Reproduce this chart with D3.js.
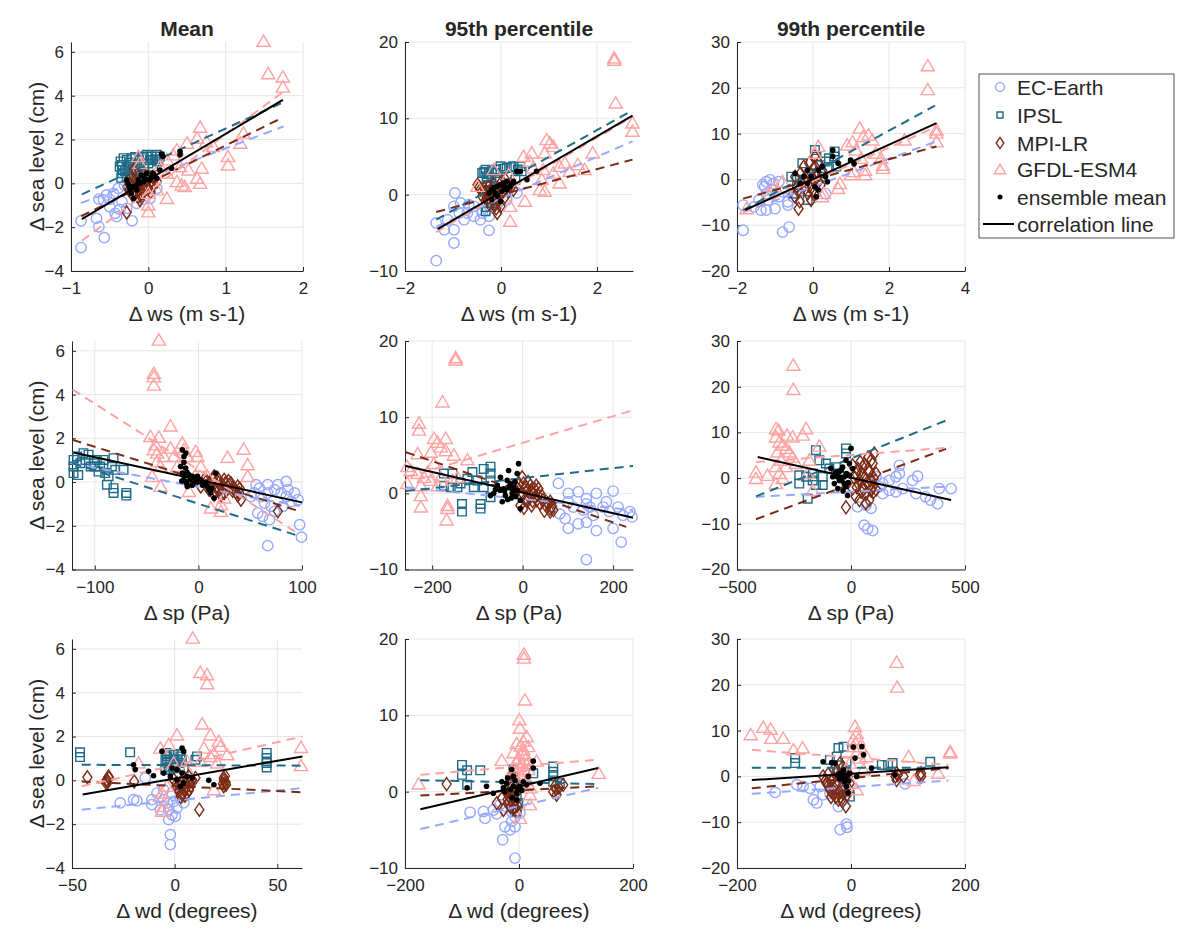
<!DOCTYPE html>
<html>
<head>
<meta charset="utf-8">
<script src="https://cdn.jsdelivr.net/npm/d3@7"></script>
<style>
body { margin: 0; background: #fff; }
text { font-family: "Liberation Sans", Arial, sans-serif; fill: #262626; }
</style>
</head>
<body>
<svg id="chart" width="1200" height="946"></svg>
<script>
// ---- labels ----
var modelNames = ["EC-Earth", "IPSL", "MPI-LR", "GFDL-ESM4"];
var colTitles = ["Mean", "95th percentile", "99th percentile"];
var rowLabels = ["\u0394 ws (m s-1)", "\u0394 sp (Pa)", "\u0394 wd (degrees)"];
var yLabel = "\u0394 sea level (cm)";

// ---- axis limits and ticks (panel order: row by row) ----
var xDomains = [[-1, 2], [-2, 2.75], [-2, 4], [-122, 100], [-260, 244], [-500, 500], [-50, 62], [-200, 200], [-200, 200]];
var xTickVals = [[-1, 0, 1, 2], [-2, 0, 2], [-2, 0, 2, 4], [-100, 0, 100], [-200, 0, 200], [-500, 0, 500], [-50, 0, 50], [-200, 0, 200], [-200, 0, 200]];
var yDomains = [[-4, 6.45], [-10, 20], [-20, 30]];
var yTickVals = [[-4, -2, 0, 2, 4, 6], [-10, 0, 10, 20], [-20, -10, 0, 10, 20, 30]];

// ---- wind speed, mean ----
var ecWsMean = [[-0.87,-1.71],[-0.87,-2.93],[-0.57,-2.48],[-0.64,-1.98],[-0.67,-1.6],[-0.64,-0.72],[-0.54,-0.53],[-0.45,-0.46],[-0.39,-0.23],[-0.31,-0.08],[-0.22,0.15],[-0.5,-1.07],[-0.43,-1.37],[-0.41,-1.52],[-0.21,-1.71],[-0.28,-1.14],[-0.15,-0.91],[-0.06,-0.73],[0.02,-0.69],[-0.5,-0.73],[-0.34,-0.84],[-0.19,-0.46],[-0.11,-0.3],[0.04,-0.15],[0.11,-0.23],[-0.58,-0.76],[-0.37,-1.19]];
var ipslWsMean = [[-0.37,0.76],[-0.34,0.46],[-0.28,1.07],[-0.26,0.76],[-0.22,1.14],[-0.19,0.61],[-0.15,0.91],[-0.34,0.84],[-0.28,0.3],[-0.06,1.22],[-0.02,1.3],[0.04,1.22],[0.06,1.07],[0.11,1.3],[0.15,1.22],[0,0.91],[-0.06,0.76],[-0.11,0.46],[-0.19,0.23],[-0.22,-0.15],[-0.15,0.08],[0.06,0.76],[-0.36,1.0],[-0.32,1.15],[-0.3,0.55],[-0.24,0.95],[-0.2,0.85],[-0.17,1.2],[-0.12,1.05],[-0.08,1.15],[0.02,1.05],[0.09,1.1],[0.13,1.0],[-0.35,0.25],[-0.33,0.6]];
var mpiWsMean = [[-0.28,-1.33],[-0.11,-0.76],[-0.19,-0.38],[-0.15,-0.15],[-0.11,0.08],[-0.06,-0.15],[-0.02,0.15],[0.02,0],[0.06,0.3],[0.11,0.08],[-0.24,0],[-0.22,0.3],[-0.19,0.61],[-0.06,0.46],[0,-0.23],[-0.09,-0.46],[-0.13,-0.61],[0.06,-0.08],[-0.25,-0.3],[-0.2,-0.1],[-0.17,0.15],[-0.12,-0.3],[-0.08,0.2],[-0.04,-0.05],[0,0.3],[0.04,0.1],[-0.1,-0.55],[-0.2,-0.55],[-0.27,-0.15],[0.08,0.2],[-0.15,0.4],[-0.05,-0.35],[0.03,-0.4]];
var gfdlWsMean = [[1.49,6.48],[1.55,5.0],[1.74,4.85],[1.74,4.39],[0.67,2.56],[0.84,1.68],[0.75,1.9],[0.63,2.06],[0.5,1.83],[0.37,1.52],[0.32,1.3],[0.24,1.07],[0.15,0.76],[0.41,0.76],[0.52,0.61],[0.69,0.69],[0.37,0.08],[0.43,-0.08],[0.47,-0.15],[0.63,0.23],[0.67,0],[0.24,-0.69],[0.11,-0.3],[0,-0.99],[0,-1.3],[0,-0.46],[1.03,1.22],[1.03,0.84],[1.19,1.83],[1.23,2.29],[0.24,0.46],[-0.11,0.91],[-0.13,1.22]];
var ensWsMean = [[-0.28,0.15],[-0.24,-0.23],[-0.19,-0.69],[-0.15,-0.3],[-0.11,0],[-0.06,0.3],[-0.02,0.46],[0.02,0.15],[0.06,0.46],[0.11,0.23],[0.15,0.61],[0.17,1.34],[0.19,1.22],[0.3,0.69],[0.41,1.45],[0.41,1.3],[-0.06,0.08],[-0.15,-0.08],[-0.09,0.38],[0.04,0.3],[-0.22,-0.46],[-0.2,-0.15],[-0.13,0.15],[-0.03,0.2],[0.08,0.35],[-0.26,-0.05]];
// fit lines: x1, y1, x2, y2 for EC, IPSL, MPI, GFDL, ensemble
var fitWsMean = [[-0.87,-0.9,1.75,2.6],[-0.86,-0.5,1.72,3.66],[-0.87,-1.5,1.72,2.97],[-0.86,-2.62,1.75,4.19],[-0.86,-1.63,1.74,3.81]];

// ---- wind speed, 95th ----
var ecWs95 = [[-1.35,-8.65],[-0.98,-6.33],[-1.35,-3.71],[-1.18,-4.59],[-0.96,0.22],[-0.98,-4.59],[-0.98,-1.53],[-0.84,-1.09],[-0.7,-2.4],[-0.56,-2.84],[-0.43,-3.28],[-0.25,-2.84],[-0.25,-4.67],[-0.77,-3.28],[-0.56,-1.53],[-0.39,-2.4],[-0.29,-1.97],[-1.11,-3.28],[-0.87,-2.4],[-0.08,-1.31],[0.12,-0.66],[0.33,0.22],[-0.67,-1.31]];
var ipslWs95 = [[-0.32,3.28],[-0.29,2.4],[-0.19,3.06],[-0.12,2.84],[-0.08,1.97],[-0.22,1.09],[-0.15,0.22],[-0.19,-1.09],[-0.32,-2.18],[0.12,3.49],[0.26,3.71],[0.4,3.71],[0.43,3.06],[0.3,1.97],[-0.01,3.71],[-0.29,1.09],[-0.39,2.84],[-0.35,3.0],[-0.25,2.7],[-0.2,2.2],[-0.1,3.3],[0.05,3.4],[0.2,3.6],[0.35,3.3],[-0.3,1.6],[-0.25,0.6],[-0.25,-0.5],[-0.3,-1.6]];
var mpiWs95 = [[-0.49,1.31],[-0.43,0.66],[-0.29,0.22],[-0.25,1.09],[-0.19,-0.22],[-0.15,-0.66],[-0.12,-1.31],[-0.08,-2.4],[-0.01,-1.53],[0.05,0.44],[0.12,1.09],[0.19,1.31],[0.26,0.66],[-0.29,-0.66],[-0.05,0.66],[0.02,1.75],[0.09,1.97],[-0.39,-0.22],[-0.45,1.0],[-0.35,0.3],[-0.3,-0.4],[-0.2,0.5],[-0.1,0],[-0.05,-0.8],[0,0.2],[0.08,-0.3],[0.15,0.4],[0.2,0.9],[-0.15,1.3],[-0.25,-1.2],[-0.1,-1.8],[0.05,1.2],[-0.35,0.8]];
var gfdlWs95 = [[2.36,17.9],[2.36,17.6],[2.39,12.0],[2.74,9.39],[2.74,8.3],[1.91,5.46],[1.74,3.28],[1.6,3.93],[1.33,4.15],[1.22,1.53],[1.09,6.33],[0.95,7.21],[1.02,6.77],[0.91,5.46],[0.88,3.28],[0.85,1.97],[0.91,0.44],[0.81,0.66],[0.64,5.46],[0.6,4.37],[0.47,5.02],[0.5,-0.87],[0.19,-1.53],[0.19,-3.49],[-0.15,3.28],[-0.49,1.09],[0.16,2.62],[1.09,2.84],[1.22,3.71],[0.67,3.49],[1.43,3.06]];
var ensWs95 = [[-0.25,0.22],[-0.19,0.66],[-0.12,0.22],[-0.08,1.09],[-0.01,1.31],[0.05,1.53],[0.12,1.75],[0.19,1.09],[0.26,1.75],[0.33,3.06],[0.4,3.06],[0.54,1.97],[0.74,3.06],[-0.19,-0.66],[-0.08,-0.22],[0.02,0.44],[0.12,0.66],[-0.01,-0.87],[-0.15,0.9],[0.08,1.0],[0.22,1.4]];
var fitWs95 = [[-1.35,-4.2,2.74,6.99],[-1.35,-3.28,2.74,11.05],[-1.35,-2.27,2.74,4.59],[-1.35,-4.9,2.74,10.2],[-1.32,-4.5,2.74,10.35]];

// ---- wind speed, 99th ----
var ecWs99 = [[-1.84,-11.1],[-1.84,-5.6],[-0.8,-11.5],[-0.63,-10.4],[-1.37,-6.7],[-1.23,-6.7],[-1.0,-6.4],[-0.66,-5.6],[-0.66,-4.9],[-1.27,-1.6],[-1.23,-0.5],[-1.13,-0.1],[-1.04,-0.9],[-0.9,-0.5],[-1.23,-3.1],[-1.08,-2.3],[-0.9,-3.8],[-0.8,-2.7],[-1.42,-4.5],[-1.18,-4.5],[-0.52,-3.8],[-0.42,-3.1],[0.33,-3.1],[-1.32,-1.2],[-1.56,-6.0]];
var ipslWs99 = [[-0.57,0.6],[-0.42,-0.1],[-0.28,3.5],[-0.14,-4.5],[-0.09,1.3],[0.05,6.4],[0.09,5.0],[0.19,3.1],[0.33,3.9],[0.42,4.6],[0.57,6.1],[0.57,5.0],[0.24,0.6],[-0.52,-3.1],[0.61,2.8],[0.42,2.4]];
var mpiWs99 = [[-0.38,-6.4],[-0.47,-3.8],[-0.42,-1.6],[-0.47,0.6],[-0.33,1.3],[-0.24,-0.1],[-0.14,-3.1],[-0.05,-4.5],[0,-2.3],[0.09,0.6],[0.05,5.0],[0.05,2.8],[0.14,-0.5],[0.24,2.0],[-0.24,2.8],[-0.09,1.3],[-0.4,-2.5],[-0.3,-0.8],[-0.2,0.5],[-0.1,-1.5],[0,0.2],[0.1,1.5],[0.15,3.5],[-0.35,-4.8],[-0.2,-2.0],[0.05,-3.5],[0.2,-1.2],[-0.1,3.5]];
var gfdlWs99 = [[3.02,24.8],[3.02,19.6],[3.25,10.8],[3.25,10.1],[3.25,8.2],[2.41,8.6],[1.23,11.2],[1.32,9.3],[1.46,9.7],[1.56,8.6],[0.9,7.5],[1.04,8.2],[1.13,6.4],[1.27,4.6],[1.37,2.0],[1.37,1.0],[1.65,5.7],[1.79,4.6],[1.84,3.1],[1.84,2.4],[1.08,1.7],[0.99,1.0],[0.71,-0.9],[0.66,-2.0],[0.14,7.2],[0.05,5.7],[0.28,-3.1],[0.24,-3.8],[-0.8,-0.5],[-1.0,-1.6],[-1.75,-6.4],[-1.18,-3.1]];
var ensWs99 = [[0.52,6.4],[0.52,5.0],[0.66,3.5],[1.08,3.4],[0.99,4.2],[0.14,2.0],[0.24,2.8],[-0.05,0.6],[-0.14,-0.9],[0.05,-1.6],[0.14,-2.3],[0.09,-3.8],[-0.24,0.6],[-0.47,1.3],[-0.14,2.0],[0.33,0.6],[0.38,-0.5],[-0.33,-0.9]];
var fitWs99 = [[-1.84,-7.2,3.21,8.2],[-1.84,-6.7,3.21,16.1],[-1.84,-4.2,3.25,7.2],[-1.84,-7.1,3.25,11.5],[-1.79,-6.7,3.25,12.3]];

// ---- surface pressure, mean ----
var ecSpMean = [[99.5,-2.52],[97.7,-1.95],[66.9,-2.91],[84.8,0.03],[76.7,-0.12],[66.9,-0.12],[55.7,-0.12],[54,-0.5],[60.5,-0.66],[63.8,-0.96],[57.3,-1.42],[62.1,-1.57],[68.6,-1.72],[73.5,-1.34],[79.9,-0.5],[86.4,-0.35],[92.9,-0.5],[96.1,-0.81],[89.6,-0.89],[81.6,-1.11],[70.2,-1.11],[66.9,-0.5],[73.5,-0.35],[84.8,-0.66],[50.8,-0.66],[58.9,-0.28]];
var ipslSpMean = [[-120.5,1.01],[-120.5,0.71],[-120.5,0.41],[-117,1.17],[-116,0.32],[-114,0.86],[-111,1.32],[-109,1.01],[-106,1.25],[-104,0.71],[-101,0.86],[-98,1.01],[-96.4,0.48],[-94.8,0.71],[-91.6,1.01],[-90,0.41],[-86.7,0.26],[-88.3,-0.12],[-83.5,0.71],[-81.9,-0.5],[-81.9,-0.28],[-80.3,0.56],[-72.2,0.56],[-69.6,-0.5],[-69.6,-0.62],[-81.9,1.09],[-99.7,0.71]];
var mpiSpMean = [[76.7,-1.34],[5.5,0.1],[10.4,-0.05],[15.2,0.26],[18.4,0.03],[21.7,-0.12],[24.9,0.1],[28.2,-0.2],[31.4,-0.05],[34.6,-0.28],[37.9,-0.2],[39.5,-0.5],[20,-0.35],[24.9,-0.5],[15.2,-0.58],[10.4,-0.35],[2.3,-0.2],[41.1,-0.81],[8,0.05],[12,-0.15],[14,0.1],[17,-0.25],[19,0.15],[23,-0.3],[26,-0.05],[27,-0.4],[30,-0.15],[33,-0.4],[36,-0.45],[38,-0.6],[29,0.05],[22,-0.6],[16,-0.4],[40,-0.3]];
var gfdlSpMean = [[-38.2,6.49],[-43,4.97],[-43,4.81],[-43,4.43],[-26.9,2.56],[-46.3,2.08],[-38.2,2.05],[-41.4,1.7],[-43,1.47],[-39.8,1.32],[-33.3,1.17],[-39.8,0.94],[-36.6,0.71],[-44.7,0.26],[-36.6,-0.2],[-26.9,1.55],[-23.6,1.17],[-20.4,0.71],[-15.5,1.78],[-13.9,1.47],[-10.7,1.17],[-2.6,1.4],[-1,1.17],[2.3,0.71],[-2.6,0.33],[-9.1,-0.43],[12,-1.19],[21.7,-1.34],[21.7,-1.04],[28.2,1.13],[43.7,1.5],[47.6,0.79],[47.6,0.26],[24.9,-0.73],[8.7,0.26]];
var ensSpMean = [[-15.5,1.47],[-12.3,1.32],[-13.9,1.17],[-17.2,0.71],[-15.5,0.41],[-13.9,0.26],[-12.3,0.03],[-10.7,-0.2],[-9.1,0.33],[-5.8,0.26],[-1,0.26],[2.3,0.1],[5.5,-0.05],[8.7,-0.2],[12,-0.5],[15.2,-0.73],[16.8,0.41],[-12.3,0.64],[-4.2,-0.05],[-14,0.9],[-11,0.45],[-8,0.1],[-6,-0.15],[-3,0.1],[0,0],[4,-0.15],[7,0],[10,-0.35],[13,-0.3],[-16,0.05],[-11,-0.1]];
var fitSpMean = [[-121.4,0.85,97.7,-1.1],[-121.4,0.86,97.7,-2.48],[-121.4,1.93,97.7,-1.34],[-121.4,4.23,97.7,-2.4],[-120.7,1.35,100,-0.93]];

// ---- surface pressure, 95th ----
var ecSp95 = [[141,-8.7],[218,-6.4],[79,1.3],[101,0],[101,-1.1],[123,0.2],[141,-0.7],[163,0],[200,0.3],[82,-2.7],[101,-4.6],[123,-4.0],[141,-3.8],[163,-4.9],[200,-4.6],[112,-1.8],[134,-2.2],[149,-1.8],[178,-1.8],[192,-2.4],[211,-1.8],[222,-2.9],[237,-2.4],[242,-3.1],[156,-2.9],[185,-1.1],[94,-3.3],[141,-1.4]];
var ipslSp95 = [[-174,2.6],[-174,1.0],[-155,2.6],[-144,0.8],[-137,1.3],[-134,-1.4],[-134,-2.4],[-122,1.9],[-111,2.8],[-100,1.7],[-93,-1.4],[-93,-2.0],[-86,3.2],[-71,3.5],[-71,2.6],[-71,1.7],[-86,0.8],[-71,-0.5],[-159,0.8],[-108,0.8]];
var mpiSp95 = [[-12,0.6],[-5,-0.3],[2,1.3],[10,0.4],[17,1.0],[24,0],[31,-0.9],[35,0.6],[10,-1.1],[20,-1.6],[61,-2.0],[61,-1.1],[61,-2.4],[-1,2.1],[-20,0.8],[42,-0.3],[-5,-1.6],[0,0],[5,-0.8],[8,0.8],[14,-0.5],[18,0.3],[22,-1.0],[26,0.6],[28,-0.4],[33,-0.2],[38,-1.3],[45,-0.9],[50,-1.5],[55,-1.3],[65,-1.7],[-8,1.3],[-15,0.2],[3,-1.9],[12,1.5],[30,1.0],[48,-2.3],[68,-2.2]];
var gfdlSp95 = [[-148,17.8],[-148,17.5],[-177,12.0],[-229,9.2],[-229,8.3],[-196,7.2],[-170,7.2],[-188,6.7],[-181,6.1],[-170,5.6],[-203,5.4],[-232,5.2],[-152,5.0],[-122,4.4],[-255,3.5],[-247,3.0],[-232,2.6],[-218,2.1],[-210,2.8],[-196,3.9],[-181,2.1],[-225,1.0],[-225,-0.3],[-225,-1.8],[-166,-1.6],[-166,-2.0],[-168,-3.5],[-255,1.3],[-203,1.7],[-188,1.0],[-155,1.7],[-144,2.1]];
var ensSp95 = [[-64,0],[-56,1.0],[-49,2.1],[-45,-1.1],[-42,0.6],[-34,1.7],[-31,3.0],[-23,0],[-20,0.8],[-12,2.6],[-9,3.9],[-5,-2.0],[-5,-0.9],[-27,1.3],[-38,-0.3],[-71,-0.3],[-12,0.4],[-40,0.3],[-30,0.9],[-25,-0.6],[-17,1.5],[-15,-0.4],[-33,-0.8],[-50,0.4],[-60,0.5]];
var fitSp95 = [[-258,0.8,244,-2.2],[-258,0.3,244,3.6],[-258,5.4,229,-4.4],[-258,2.1,244,10.9],[-258,3.6,244,-3.2]];

// ---- surface pressure, 99th ----
var ecSp99 = [[58,-10.3],[73,-11.1],[95,-11.5],[29,-6.3],[66,-5.9],[88,-6.6],[212,2.8],[292,0.4],[270,-0.5],[212,1.0],[197,0.3],[168,-0.5],[139,-1.2],[124,-1.9],[168,-2.7],[227,-2.3],[285,-3.4],[327,-4.1],[348,-4.8],[380,-5.6],[439,-2.3],[387,-2.3],[139,-3.4],[197,-3.0],[110,0.3]];
var ipslSp99 = [[-22,6.5],[-22,5.4],[-154,6.1],[-139,3.9],[-110,3.2],[-95,2.1],[-124,0.3],[-168,1.0],[-197,0.3],[-227,0.6],[-227,-1.2],[-190,-4.5],[-168,-0.5],[-154,-1.5],[-124,-1.5],[-66,2.4],[-51,1.0]];
var mpiSp99 = [[-22,-6.4],[7,2.8],[22,1.0],[37,-0.5],[51,-1.9],[66,-3.4],[80,-4.8],[95,-1.9],[110,1.0],[102,5.4],[95,3.2],[80,1.3],[58,-0.1],[37,-4.8],[7,-2.3],[88,-2.7],[51,2.5],[15,0],[25,-2],[30,2],[45,-3],[45,1],[55,-2.5],[60,3],[70,-1],[75,2],[85,-0.5],[90,4],[100,-3],[65,-5.5],[20,-4],[40,3.5],[100,0],[110,-2.5],[75,4.5]];
var gfdlSp99 = [[-253,24.7],[-253,19.4],[-329,10.8],[-318,10.5],[-281,9.4],[-256,9.0],[-197,10.8],[-212,9.4],[-329,9.0],[-314,7.9],[-300,7.2],[-285,6.5],[-270,5.7],[-256,4.6],[-322,5.7],[-307,3.9],[-329,2.5],[-314,1.0],[-300,-0.1],[-329,-1.2],[-417,1.3],[-417,-0.1],[-366,0.6],[-139,7.0],[-183,3.9],[-168,-2.7],[-190,1.0],[-285,2.5],[-241,3.2]];
var ensSp99 = [[0,6.5],[-22,3.9],[-7,3.2],[-44,1.7],[-29,0.3],[-22,-1.9],[-15,-3.8],[-66,1.3],[-80,0.3],[-51,-0.5],[-73,-1.2],[-88,2.1],[-37,2.4],[-7,0.6],[-58,-2.3],[7,2.1],[-40,-0.5],[-30,-1.2],[-50,1.5],[-35,-2.8],[-20,1],[-60,0.3],[-12,-1],[-45,0]];
var fitSp99 = [[-417,-4.1,439,-1.8],[-417,-4.0,417,12.6],[-417,-9.0,417,6.4],[-417,3.5,439,6.7],[-409,4.6,439,-4.8]];

// ---- wind direction, mean ----
var ecWdMean = [[-2.1,-2.48],[-2.1,-2.93],[-2.9,-1.79],[-1.3,-1.57],[0.3,-1.64],[1.1,-1.26],[-2.9,-1.34],[-5.4,-0.88],[-3.7,-1.03],[-0.5,-0.96],[2.8,-0.81],[4.4,-1.03],[-11.1,-0.88],[-11.1,-1.11],[-8.6,-0.58],[-14.3,0.11],[-20,-0.88],[-18.4,-0.93],[-26.5,-1.03],[-7,-1.34],[-5.4,-0.43],[-1.3,-0.58]];
var ipslWdMean = [[-46.1,1.28],[-46.1,1.06],[-21.7,1.28],[-3.7,1.09],[-2.1,0.94],[-0.5,1.17],[1.1,0.94],[2.8,1.09],[-3.7,0.79],[-0.5,0.71],[2,0.79],[10.9,1.09],[10.1,0.94],[44.8,1.25],[44.8,1.02],[44.8,0.79],[44.8,0.59],[-4.6,0.49],[4.4,0.56],[-2.1,0.49],[-4,1.25],[-3,0.6],[-1,0.6],[0,0.95],[1.5,1.2],[3.5,0.95],[-2.5,1.2],[-4.5,0.95],[0.5,0.55],[2.5,0.62]];
var mpiWdMean = [[-42.5,0.14],[-33.1,0.03],[-33.1,-0.15],[-32.2,0.18],[-19.7,-0.05],[12,-1.34],[23.9,0.11],[23.9,-0.27],[24.8,-0.09],[2.8,-0.27],[4.4,-0.43],[5.2,-0.12],[6.8,0.18],[8.5,0.03],[3.6,-0.65],[1.1,-0.12],[-0.5,0.03],[6,-0.58],[7.7,-0.27],[10.1,0.11],[1,-0.3],[2,-0.5],[3,-0.1],[4,-0.6],[4.5,0.1],[5.5,-0.35],[6.5,-0.05],[7,-0.45],[8,0],[3,-0.75],[5,-0.7],[24,0],[25,-0.2],[24.5,0.2],[23.5,-0.15],[-33,-0.05],[-32,0.1]];
var gfdlWdMean = [[8.8,6.49],[12.5,4.92],[15.8,4.82],[15.8,4.41],[13.4,2.57],[1.1,2.07],[17.4,2.07],[-2.9,1.63],[-7,1.47],[14.2,1.47],[21.5,1.78],[22.3,1.55],[19.1,1.22],[25.6,1.17],[61.5,1.5],[61.5,0.67],[17.4,1.09],[12.5,0.87],[6,0.49],[20.7,0.79],[19.1,-0.43],[-17.6,0.79],[-6.2,-0.58],[-5.4,-1.19],[-6.2,-1.41],[-7,-0.73],[-3.7,-0.27],[6,0.87],[-0.5,0.79]];
var ensWdMean = [[-6.2,1.32],[3.6,1.47],[4.4,1.32],[-20,0.71],[-19.2,0.49],[-12.7,0.41],[-10.3,0.21],[-5.4,0.33],[-2.1,0.18],[-1.3,0.56],[1.1,0.49],[3.6,0.33],[6,0.18],[4.4,-0.12],[2.8,-0.27],[1.1,0.03],[16.6,0],[19.1,-0.2],[8.5,0.11]];
var fitWdMean = [[-45.3,-1.34,62.2,-0.35],[-45.3,0.71,62.2,0.67],[-45.3,-0.05,62.2,-0.55],[-45.3,-0.27,62.2,2.0],[-44.8,-0.65,62.2,1.09]];

// ---- wind direction, 95th ----
var ecWd95 = [[-7,-8.7],[-28.6,-6.3],[-24.5,-4.6],[-15.7,-5.0],[-7,-4.6],[-59.5,-3.5],[-85.7,-2.7],[-62.4,-2.6],[-39,-2.9],[-33.2,-1.7],[-21.6,-2.0],[-12.8,-2.6],[-7,-3.3],[1.7,-2.8],[-44.9,-2.4],[-4.1,-1.5],[-12.8,-3.9]];
var ipslWd95 = [[-100,3.5],[-100,2.2],[-91,2.8],[-68,2.8],[-91,0.9],[-9.9,2.9],[-15.7,1.5],[-12.8,0.2],[-4.1,-0.6],[-1.2,-1.5],[-4.1,-2.6],[60,3.3],[60,2.6],[60,2.0],[60,1.3],[71.7,1.1],[25,2.4],[4.7,0.7]];
var mpiWd95 = [[-127,1.0],[-39,-1.5],[-30,-0.9],[-21.6,0.2],[-15.7,1.1],[-12.8,2.0],[-9.9,-0.6],[-7,-2.0],[-4.1,-2.6],[-1.2,0.2],[-18.7,-1.5],[-27.4,-2.4],[63,0.7],[66,-0.4],[77.5,0.9],[60,0],[-12.8,-0.6],[-18,-0.5],[-16,0.5],[-14,-1.0],[-13,1.3],[-11,-1.5],[-10,0.8],[-8,-0.3],[-7,1.5],[-6,-1.2],[-5,0.5],[-3,-1.8],[-2,1.0],[-10,-2.2],[-15,-2.0],[-20,-1.0],[-8,1.9],[65,0.3],[70,0.5]];
var gfdlWd95 = [[8.7,18.0],[8.7,17.5],[10.5,12.0],[0.6,9.4],[1.7,8.3],[13.4,7.2],[7.6,6.6],[16.3,5.9],[7.6,5.5],[-9.9,5.1],[-1.2,4.4],[-30.3,4.1],[4.7,3.7],[13.4,3.5],[30.9,4.0],[16.3,2.9],[1.7,2.4],[-12.8,2.0],[13.4,1.5],[19.2,-0.4],[19.2,-1.7],[1.7,-3.5],[-176,1.0],[140,2.4],[-4.1,6.3],[10.5,4.8],[1.7,3.3],[-9.9,2.9],[3,6],[6,5],[12,4.2],[-4,3.8],[5,2],[10,2.7],[15,1],[20,0.5],[0,1],[-6,1.2]];
var ensWd95 = [[-91,0.5],[-57,0.7],[-45,-0.2],[-30,1.3],[-27.4,0.5],[-21.6,1.1],[-12.8,2.9],[-9.9,2.0],[-9.9,0.7],[-4.1,-0.2],[-4.1,-1.1],[1.7,0.7],[16.3,2.0],[25,4.0],[25,3.1],[36.7,1.1],[13.4,0.9],[7.6,1.3],[-20,1.8],[-15,0.3],[-12,-0.8],[-7,1.5],[-2,0.3],[5,0.2],[-25,0]];
var fitWd95 = [[-173,-4.9,139,0.5],[-173,1.5,139,1.0],[-173,-0.5,139,0.7],[-173,2.2,139,4.2],[-173,-2.3,139,3.1]];

// ---- wind direction, 99th ----
var ecWd99 = [[-19,-11.6],[-8,-10.4],[-7,-11.1],[-133,-3.5],[-95,-1.8],[-84,-2.2],[-72,-2.6],[-66,-5.1],[-60,-5.8],[-49,-4.0],[-22,-6.6],[-37,-3.7],[-28,-2.2],[-13,-2.9],[95,-1.6],[-54,-2.2],[-13,-5.1]];
var ipslWd99 = [[-98,4.0],[-98,2.9],[-22,6.2],[-13,6.5],[-25,4.3],[-8,3.2],[-22,0.7],[-2,-4.4],[54,2.5],[65,2.5],[73,2.9],[139,3.2],[-37,3.6]];
var mpiWd99 = [[-49,0],[-43,-1.5],[-37,-2.9],[-28,-3.6],[-22,-5.1],[-9,-6.5],[-16,-2.2],[-13,0],[-8,1.4],[-25,1.4],[-19,2.9],[-31,-0.4],[80,0.7],[80,-0.8],[92,0],[123,0.7],[123,0],[-2,-1.5],[-5,0],[-45,-1],[-40,-2],[-35,-1],[-33,-3.5],[-30,-2.5],[-27,-4.5],[-25,-1.5],[-20,-3.5],[-18,-4.5],[-15,-5.5],[-12,-3.5],[-10,-1],[-7,-4],[-3,-3],[-40,0.5],[-30,1.5],[-20,0],[-15,2],[-10,-2.5],[-35,-4.5],[78,0],[82,0.3],[120,0.3]];
var gfdlWd99 = [[80,24.9],[81,19.5],[-176,9.1],[-154,10.7],[-141,10.3],[-140,8.3],[-119,8.3],[-101,5.8],[-85,6.2],[7,10.9],[10,9.4],[13,8.0],[4,6.5],[10,5.1],[16,4.0],[27,4.3],[-2,2.9],[-8,1.4],[22,1.4],[1,-1.5],[10,-2.9],[101,4.3],[110,-0.9],[153,0.7],[174,5.4],[174,5.1],[4,8.0],[16,6.5]];
var ensWd99 = [[-49,3.2],[-34,3.0],[-28,2.9],[4,6.4],[7,4.0],[19,6.5],[22,4.7],[36,1.8],[77,0.3],[-16,0],[-11,-1.1],[-8,-2.2],[-5,-3.6],[-13,1.4],[-19,0.7],[-2,0.7],[10,0],[-10,-0.5],[-6,0.3],[-4,-1],[-14,-0.3],[-20,-0.5],[-24,0.3]];
var fitWd99 = [[-174,-3.8,171,-0.9],[-174,1.9,171,1.9],[-174,-2.6,171,1.8],[-174,5.8,171,2.5],[-174,-0.8,171,2.0]];

// ---- styles ----
var colors = ["#97a9ff", "#1f6b88", "#7b2b15", "#ffa2a2"];
var shapes = ["circle", "square", "diamond", "triangle"];
var colLeft = [72, 405, 737], colRight = [302, 633, 965];
var rowTop = [42, 341, 639], rowBottom = [271, 569.5, 868];

var panelData = [
    [ecWsMean, ipslWsMean, mpiWsMean, gfdlWsMean, ensWsMean, fitWsMean],
    [ecWs95, ipslWs95, mpiWs95, gfdlWs95, ensWs95, fitWs95],
    [ecWs99, ipslWs99, mpiWs99, gfdlWs99, ensWs99, fitWs99],
    [ecSpMean, ipslSpMean, mpiSpMean, gfdlSpMean, ensSpMean, fitSpMean],
    [ecSp95, ipslSp95, mpiSp95, gfdlSp95, ensSp95, fitSp95],
    [ecSp99, ipslSp99, mpiSp99, gfdlSp99, ensSp99, fitSp99],
    [ecWdMean, ipslWdMean, mpiWdMean, gfdlWdMean, ensWdMean, fitWdMean],
    [ecWd95, ipslWd95, mpiWd95, gfdlWd95, ensWd95, fitWd95],
    [ecWd99, ipslWd99, mpiWd99, gfdlWd99, ensWd99, fitWd99]
];

var svg = d3.select("#chart");

function markerPath(shape) {
    if (shape == "square") return "M-4.3,-4.3h8.6v8.6h-8.6Z";
    if (shape == "diamond") return "M0,-6.5L4.5,0L0,6.5L-4.5,0Z";
    if (shape == "triangle") return "M0,-6.3L6.6,5L-6.6,5Z";
    return d3.symbol(d3.symbolCircle, Math.PI * 5.2 * 5.2)();
}

function drawPanel(i) {
    var row = Math.floor(i / 3), col = i % 3;
    var data = panelData[i];
    var left = colLeft[col], right = colRight[col];
    var top = rowTop[row], bottom = rowBottom[row];
    if (i == 0) { left = 71; right = 303; }

    var x = d3.scaleLinear().domain(xDomains[i]).range([left, right]);
    var y = d3.scaleLinear().domain(yDomains[col]).range([bottom, top]);
    var g = svg.append("g");

    // grid
    g.selectAll(".vgrid").data(xTickVals[i]).join("line")
        .attr("x1", d => x(d)).attr("x2", d => x(d))
        .attr("y1", top).attr("y2", bottom)
        .attr("stroke", "#e6e6e6").attr("stroke-width", 1);
    g.selectAll(".hgrid").data(yTickVals[col]).join("line")
        .attr("x1", left).attr("x2", right)
        .attr("y1", d => y(d)).attr("y2", d => y(d))
        .attr("stroke", "#e6e6e6").attr("stroke-width", 1);

    // axes
    var xAxis = g.append("g").attr("transform", "translate(0," + bottom + ")")
        .call(d3.axisBottom(x).tickValues(xTickVals[i]).tickFormat(d3.format("d"))
            .tickSizeInner(-4).tickSizeOuter(0).tickPadding(11));
    var yAxis = g.append("g").attr("transform", "translate(" + left + ",0)")
        .call(d3.axisLeft(y).tickValues(yTickVals[col]).tickFormat(d3.format("d"))
            .tickSizeInner(-4).tickSizeOuter(0).tickPadding(7));
    [xAxis, yAxis].forEach(function (a) {
        a.select(".domain").attr("stroke", "#262626").attr("stroke-width", 1);
        a.selectAll(".tick line").attr("stroke", "#262626");
        a.selectAll(".tick text").attr("font-size", 17).attr("fill", "#262626")
            .style("font-family", "'Liberation Sans', Arial, sans-serif");
    });

    // model scatter
    for (var m = 0; m < 4; m++) {
        g.append("g").selectAll("path").data(data[m]).join("path")
            .attr("d", markerPath(shapes[m]))
            .attr("transform", d => "translate(" + x(d[0]) + "," + y(d[1]) + ")")
            .attr("fill", "none").attr("stroke", colors[m]).attr("stroke-width", 1.4);
    }

    // dashed regression lines per model
    g.append("g").selectAll("line").data(data[5].slice(0, 4)).join("line")
        .attr("x1", d => x(d[0])).attr("y1", d => y(d[1]))
        .attr("x2", d => x(d[2])).attr("y2", d => y(d[3]))
        .attr("stroke", (d, k) => colors[k]).attr("stroke-width", 2)
        .attr("stroke-dasharray", "9,6");

    // ensemble mean points
    g.append("g").selectAll("circle").data(data[4]).join("circle")
        .attr("cx", d => x(d[0])).attr("cy", d => y(d[1]))
        .attr("r", 2.8).attr("fill", "#000");

    // correlation line
    var c = data[5][4];
    g.append("line")
        .attr("x1", x(c[0])).attr("y1", y(c[1]))
        .attr("x2", x(c[2])).attr("y2", y(c[3]))
        .attr("stroke", "#000").attr("stroke-width", 2);

    // labels
    g.append("text").attr("x", (left + right) / 2).attr("y", bottom + 50)
        .attr("text-anchor", "middle").attr("font-size", 21).text(rowLabels[row]);
    if (row == 0) {
        g.append("text").attr("x", (left + right) / 2).attr("y", top - 6)
            .attr("text-anchor", "middle").attr("font-size", 21)
            .attr("font-weight", "bold").attr("fill", "#000").text(colTitles[col]);
    }
    if (col == 0) {
        g.append("text")
            .attr("transform", "translate(44," + (top + bottom) / 2 + ") rotate(-90)")
            .attr("text-anchor", "middle").attr("font-size", 21).text(yLabel);
    }
}

for (var i = 0; i < 9; i++) drawPanel(i);

// legend
var legend = svg.append("g");
legend.append("rect").attr("x", 979).attr("y", 74).attr("width", 195).attr("height", 164)
    .attr("fill", "#fff").attr("stroke", "#262626").attr("stroke-width", 0.8);
var legendY = [87, 115, 143, 169.5, 197, 224];
var legendLabels = modelNames.concat(["ensemble mean", "correlation line"]);
legendLabels.forEach(function (name, k) {
    var ly = legendY[k];
    if (k < 4) {
        var scale = k == 1 ? 0.7 : 0.85;
        legend.append("path").attr("d", markerPath(shapes[k]))
            .attr("transform", "translate(1000," + ly + ") scale(" + scale + ")")
            .attr("fill", "none").attr("stroke", colors[k]).attr("stroke-width", 1.4 / scale);
    } else if (k == 4) {
        legend.append("circle").attr("cx", 1000).attr("cy", ly).attr("r", 2.5).attr("fill", "#000");
    } else {
        legend.append("line").attr("x1", 983).attr("x2", 1014).attr("y1", ly).attr("y2", ly)
            .attr("stroke", "#000").attr("stroke-width", 2);
    }
    legend.append("text").attr("x", 1017).attr("y", ly + 7.5)
        .attr("font-size", 21).attr("fill", "#000").text(name);
});
</script>
</body>
</html>
